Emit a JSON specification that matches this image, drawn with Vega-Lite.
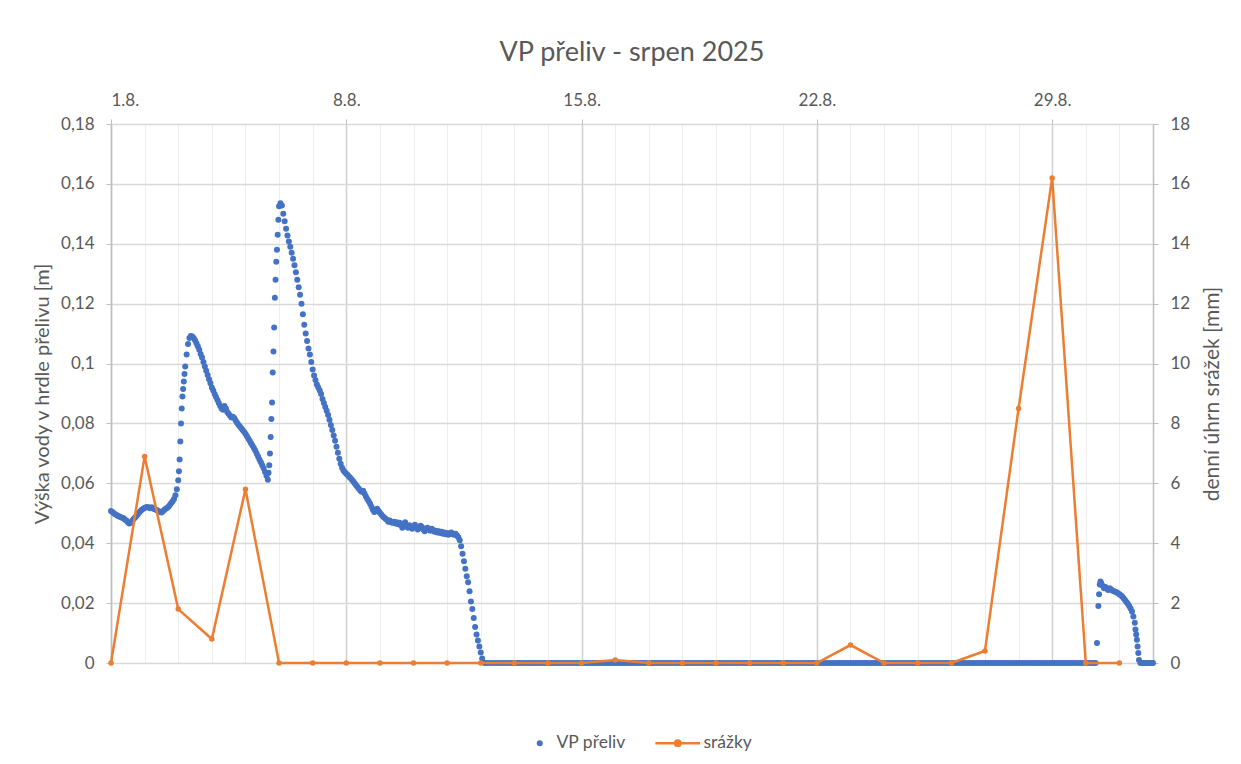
{
"$schema": "https://vega.github.io/schema/vega-lite/v6.json",
"width": 1042,
"height": 539,
"autosize": {"type": "none"},
"padding": {"left": 111, "top": 124, "right": 88, "bottom": 101},
"background": "white",
"config": {"view": {"stroke": null}, "font": "Lato", "axis": {"labelOverlap": false}},
"title": {"text": "VP přeliv - srpen 2025", "fontSize": 27, "fontWeight": "normal", "color": "#595959", "font": "Lato", "offset": 24},
"datasets": {
"lvl": [
{"h":0,"v":0.0508},{"h":1,"v":0.0504},{"h":2,"v":0.0500},{"h":3,"v":0.0497},{"h":4,"v":0.0494},{"h":5,"v":0.0491},{"h":6,"v":0.0489},{"h":7,"v":0.0487},{"h":8,"v":0.0485},{"h":9,"v":0.0483},{"h":10,"v":0.0478},{"h":11,"v":0.0476},{"h":12,"v":0.0470},{"h":13,"v":0.0466},{"h":14,"v":0.0468},{"h":15,"v":0.0474},{"h":16,"v":0.0480},{"h":17,"v":0.0485},{"h":18,"v":0.0490},{"h":19,"v":0.0496},{"h":20,"v":0.0502},{"h":21,"v":0.0508},{"h":22,"v":0.0512},{"h":23,"v":0.0515},{"h":24,"v":0.0518},{"h":25,"v":0.0520},{"h":26,"v":0.0521},{"h":27,"v":0.0519},{"h":28,"v":0.0517},{"h":29,"v":0.0520},{"h":30,"v":0.0516},{"h":31,"v":0.0514},{"h":32,"v":0.0512},{"h":33,"v":0.0510},{"h":34,"v":0.0507},{"h":35,"v":0.0505},{"h":36,"v":0.0503},{"h":37,"v":0.0507},{"h":38,"v":0.0511},{"h":39,"v":0.0515},{"h":40,"v":0.0518},{"h":41,"v":0.0522},{"h":42,"v":0.0528},{"h":43,"v":0.0534},{"h":44,"v":0.0540},{"h":45,"v":0.0548},{"h":46,"v":0.0560},{"h":47,"v":0.0580},{"h":48,"v":0.0610},{"h":48.5,"v":0.0640},{"h":49,"v":0.0680},{"h":49.5,"v":0.0740},{"h":50,"v":0.0800},{"h":50.5,"v":0.0850},{"h":51,"v":0.0890},{"h":51.5,"v":0.0915},{"h":52,"v":0.0940},{"h":52.5,"v":0.0965},{"h":53,"v":0.0990},{"h":54,"v":0.1030},{"h":55,"v":0.1065},{"h":56,"v":0.1085},{"h":57,"v":0.1092},{"h":58,"v":0.1090},{"h":59,"v":0.1085},{"h":60,"v":0.1078},{"h":61,"v":0.1068},{"h":62,"v":0.1058},{"h":63,"v":0.1046},{"h":64,"v":0.1032},{"h":65,"v":0.1020},{"h":66,"v":0.1005},{"h":67,"v":0.0990},{"h":68,"v":0.0976},{"h":69,"v":0.0962},{"h":70,"v":0.0948},{"h":71,"v":0.0934},{"h":72,"v":0.0920},{"h":73,"v":0.0910},{"h":74,"v":0.0898},{"h":75,"v":0.0888},{"h":76,"v":0.0878},{"h":77,"v":0.0868},{"h":78,"v":0.0858},{"h":79,"v":0.0850},{"h":80,"v":0.0846},{"h":81,"v":0.0858},{"h":82,"v":0.0850},{"h":83,"v":0.0838},{"h":84,"v":0.0832},{"h":85,"v":0.0826},{"h":86,"v":0.0820},{"h":87,"v":0.0822},{"h":88,"v":0.0818},{"h":89,"v":0.0810},{"h":90,"v":0.0802},{"h":91,"v":0.0796},{"h":92,"v":0.0790},{"h":93,"v":0.0784},{"h":94,"v":0.0778},{"h":95,"v":0.0772},{"h":96,"v":0.0766},{"h":97,"v":0.0758},{"h":98,"v":0.0750},{"h":99,"v":0.0742},{"h":100,"v":0.0734},{"h":101,"v":0.0726},{"h":102,"v":0.0718},{"h":103,"v":0.0710},{"h":104,"v":0.0700},{"h":105,"v":0.0690},{"h":106,"v":0.0680},{"h":107,"v":0.0670},{"h":108,"v":0.0660},{"h":109,"v":0.0650},{"h":110,"v":0.0638},{"h":111,"v":0.0625},{"h":112,"v":0.0612},{"h":112.5,"v":0.0635},{"h":113,"v":0.0660},{"h":113.5,"v":0.0700},{"h":114,"v":0.0755},{"h":114.5,"v":0.0815},{"h":115,"v":0.0870},{"h":115.5,"v":0.0970},{"h":116,"v":0.1040},{"h":116.5,"v":0.1120},{"h":117,"v":0.1220},{"h":117.5,"v":0.1280},{"h":118,"v":0.1340},{"h":118.5,"v":0.1380},{"h":119,"v":0.1430},{"h":119.5,"v":0.1480},{"h":120,"v":0.1525},{"h":121,"v":0.1535},{"h":122,"v":0.1528},{"h":123,"v":0.1500},{"h":124,"v":0.1475},{"h":125,"v":0.1450},{"h":126,"v":0.1428},{"h":127,"v":0.1408},{"h":128,"v":0.1390},{"h":129,"v":0.1370},{"h":130,"v":0.1350},{"h":131,"v":0.1328},{"h":132,"v":0.1305},{"h":133,"v":0.1280},{"h":134,"v":0.1255},{"h":135,"v":0.1230},{"h":136,"v":0.1200},{"h":137,"v":0.1165},{"h":138,"v":0.1130},{"h":139,"v":0.1100},{"h":140,"v":0.1075},{"h":141,"v":0.1050},{"h":142,"v":0.1030},{"h":143,"v":0.1005},{"h":144,"v":0.0980},{"h":145,"v":0.0960},{"h":146,"v":0.0945},{"h":147,"v":0.0930},{"h":148,"v":0.0920},{"h":149,"v":0.0910},{"h":150,"v":0.0898},{"h":151,"v":0.0882},{"h":152,"v":0.0868},{"h":153,"v":0.0855},{"h":154,"v":0.0842},{"h":155,"v":0.0828},{"h":156,"v":0.0812},{"h":157,"v":0.0795},{"h":158,"v":0.0778},{"h":159,"v":0.0760},{"h":160,"v":0.0742},{"h":161,"v":0.0722},{"h":162,"v":0.0702},{"h":163,"v":0.0682},{"h":164,"v":0.0665},{"h":165,"v":0.0652},{"h":166,"v":0.0643},{"h":167,"v":0.0637},{"h":168,"v":0.0632},{"h":169,"v":0.0628},{"h":170,"v":0.0622},{"h":171,"v":0.0618},{"h":172,"v":0.0612},{"h":173,"v":0.0606},{"h":174,"v":0.0600},{"h":175,"v":0.0594},{"h":176,"v":0.0588},{"h":177,"v":0.0582},{"h":178,"v":0.0576},{"h":179,"v":0.0572},{"h":180,"v":0.0575},{"h":181,"v":0.0566},{"h":182,"v":0.0556},{"h":183,"v":0.0548},{"h":184,"v":0.0540},{"h":185,"v":0.0532},{"h":186,"v":0.0522},{"h":187,"v":0.0512},{"h":188,"v":0.0504},{"h":189,"v":0.0510},{"h":190,"v":0.0515},{"h":191,"v":0.0508},{"h":192,"v":0.0502},{"h":193,"v":0.0496},{"h":194,"v":0.0490},{"h":195,"v":0.0486},{"h":196,"v":0.0482},{"h":197,"v":0.0478},{"h":198,"v":0.0472},{"h":199,"v":0.0476},{"h":200,"v":0.0470},{"h":201,"v":0.0468},{"h":202,"v":0.0472},{"h":203,"v":0.0466},{"h":204,"v":0.0470},{"h":205,"v":0.0463},{"h":206,"v":0.0468},{"h":207,"v":0.0460},{"h":208,"v":0.0452},{"h":209,"v":0.0465},{"h":210,"v":0.0470},{"h":211,"v":0.0458},{"h":212,"v":0.0452},{"h":213,"v":0.0460},{"h":214,"v":0.0456},{"h":215,"v":0.0448},{"h":216,"v":0.0455},{"h":217,"v":0.0462},{"h":218,"v":0.0452},{"h":219,"v":0.0446},{"h":220,"v":0.0450},{"h":221,"v":0.0458},{"h":222,"v":0.0454},{"h":223,"v":0.0446},{"h":224,"v":0.0440},{"h":225,"v":0.0448},{"h":226,"v":0.0452},{"h":227,"v":0.0446},{"h":228,"v":0.0442},{"h":229,"v":0.0448},{"h":230,"v":0.0444},{"h":231,"v":0.0438},{"h":232,"v":0.0442},{"h":233,"v":0.0436},{"h":234,"v":0.0440},{"h":235,"v":0.0434},{"h":236,"v":0.0438},{"h":237,"v":0.0432},{"h":238,"v":0.0436},{"h":239,"v":0.0430},{"h":240,"v":0.0434},{"h":241,"v":0.0428},{"h":242,"v":0.0432},{"h":243,"v":0.0436},{"h":244,"v":0.0430},{"h":245,"v":0.0428},{"h":246,"v":0.0432},{"h":247,"v":0.0426},{"h":248,"v":0.0420},{"h":249,"v":0.0410},{"h":250,"v":0.0390},{"h":251,"v":0.0365},{"h":252,"v":0.0340},{"h":253,"v":0.0315},{"h":254,"v":0.0290},{"h":255,"v":0.0270},{"h":256,"v":0.0240},{"h":257,"v":0.0205},{"h":258,"v":0.0180},{"h":259,"v":0.0150},{"h":260,"v":0.0120},{"h":261,"v":0.0095},{"h":262,"v":0.0075},{"h":263,"v":0.0055},{"h":264,"v":0.0035},{"h":265,"v":0.0015},{"h":266,"v":0.0002},{"h":267,"v":0},
{"h":268,"v":0},{"h":270,"v":0},{"h":272,"v":0},{"h":274,"v":0},{"h":276,"v":0},{"h":278,"v":0},{"h":280,"v":0},{"h":282,"v":0},{"h":284,"v":0},{"h":286,"v":0},{"h":288,"v":0},{"h":290,"v":0},{"h":292,"v":0},{"h":294,"v":0},{"h":296,"v":0},{"h":298,"v":0},{"h":300,"v":0},{"h":302,"v":0},{"h":304,"v":0},{"h":306,"v":0},{"h":308,"v":0},{"h":310,"v":0},{"h":312,"v":0},{"h":314,"v":0},{"h":316,"v":0},{"h":318,"v":0},{"h":320,"v":0},{"h":322,"v":0},{"h":324,"v":0},{"h":326,"v":0},{"h":328,"v":0},{"h":330,"v":0},{"h":332,"v":0},{"h":334,"v":0},{"h":336,"v":0},{"h":338,"v":0},{"h":340,"v":0},{"h":342,"v":0},{"h":344,"v":0},{"h":346,"v":0},{"h":348,"v":0},{"h":350,"v":0},{"h":352,"v":0},{"h":354,"v":0},{"h":356,"v":0},{"h":358,"v":0},{"h":360,"v":0},{"h":362,"v":0},{"h":364,"v":0},{"h":366,"v":0},{"h":368,"v":0},{"h":370,"v":0},{"h":372,"v":0},{"h":374,"v":0},{"h":376,"v":0},{"h":378,"v":0},{"h":380,"v":0},{"h":382,"v":0},{"h":384,"v":0},{"h":386,"v":0},{"h":388,"v":0},{"h":390,"v":0},{"h":392,"v":0},{"h":394,"v":0},{"h":396,"v":0},{"h":398,"v":0},{"h":400,"v":0},{"h":402,"v":0},{"h":404,"v":0},{"h":406,"v":0},{"h":408,"v":0},{"h":410,"v":0},{"h":412,"v":0},{"h":414,"v":0},{"h":416,"v":0},{"h":418,"v":0},{"h":420,"v":0},{"h":422,"v":0},{"h":424,"v":0},{"h":426,"v":0},{"h":428,"v":0},{"h":430,"v":0},{"h":432,"v":0},{"h":434,"v":0},{"h":436,"v":0},{"h":438,"v":0},{"h":440,"v":0},{"h":442,"v":0},{"h":444,"v":0},{"h":446,"v":0},{"h":448,"v":0},{"h":450,"v":0},{"h":452,"v":0},{"h":454,"v":0},{"h":456,"v":0},{"h":458,"v":0},{"h":460,"v":0},{"h":462,"v":0},{"h":464,"v":0},{"h":466,"v":0},{"h":468,"v":0},{"h":470,"v":0},{"h":472,"v":0},{"h":474,"v":0},{"h":476,"v":0},{"h":478,"v":0},{"h":480,"v":0},{"h":482,"v":0},{"h":484,"v":0},{"h":486,"v":0},{"h":488,"v":0},{"h":490,"v":0},{"h":492,"v":0},{"h":494,"v":0},{"h":496,"v":0},{"h":498,"v":0},{"h":500,"v":0},{"h":502,"v":0},{"h":504,"v":0},{"h":506,"v":0},{"h":508,"v":0},{"h":510,"v":0},{"h":512,"v":0},{"h":514,"v":0},{"h":516,"v":0},{"h":518,"v":0},{"h":520,"v":0},{"h":522,"v":0},{"h":524,"v":0},{"h":526,"v":0},{"h":528,"v":0},{"h":530,"v":0},{"h":532,"v":0},{"h":534,"v":0},{"h":536,"v":0},{"h":538,"v":0},{"h":540,"v":0},{"h":542,"v":0},{"h":544,"v":0},{"h":546,"v":0},{"h":548,"v":0},{"h":550,"v":0},{"h":552,"v":0},{"h":554,"v":0},{"h":556,"v":0},{"h":558,"v":0},{"h":560,"v":0},{"h":562,"v":0},{"h":564,"v":0},{"h":566,"v":0},{"h":568,"v":0},{"h":570,"v":0},{"h":572,"v":0},{"h":574,"v":0},{"h":576,"v":0},{"h":578,"v":0},{"h":580,"v":0},{"h":582,"v":0},{"h":584,"v":0},{"h":586,"v":0},{"h":588,"v":0},{"h":590,"v":0},{"h":592,"v":0},{"h":594,"v":0},{"h":596,"v":0},{"h":598,"v":0},{"h":600,"v":0},{"h":602,"v":0},{"h":604,"v":0},{"h":606,"v":0},{"h":608,"v":0},{"h":610,"v":0},{"h":612,"v":0},{"h":614,"v":0},{"h":616,"v":0},{"h":618,"v":0},{"h":620,"v":0},{"h":622,"v":0},{"h":624,"v":0},{"h":626,"v":0},{"h":628,"v":0},{"h":630,"v":0},{"h":632,"v":0},{"h":634,"v":0},{"h":636,"v":0},{"h":638,"v":0},{"h":640,"v":0},{"h":642,"v":0},{"h":644,"v":0},{"h":646,"v":0},{"h":648,"v":0},{"h":650,"v":0},{"h":652,"v":0},{"h":654,"v":0},{"h":656,"v":0},{"h":658,"v":0},{"h":660,"v":0},{"h":662,"v":0},{"h":664,"v":0},{"h":666,"v":0},{"h":668,"v":0},{"h":670,"v":0},{"h":672,"v":0},{"h":674,"v":0},{"h":676,"v":0},{"h":678,"v":0},{"h":680,"v":0},{"h":682,"v":0},{"h":684,"v":0},{"h":686,"v":0},{"h":688,"v":0},{"h":690,"v":0},{"h":692,"v":0},{"h":694,"v":0},{"h":696,"v":0},{"h":698,"v":0},{"h":700,"v":0},{"h":702,"v":0},{"h":703,"v":0},
{"h":704,"v":0.0067},{"h":705,"v":0.0190},{"h":705.5,"v":0.0230},{"h":706,"v":0.0262},{"h":706.5,"v":0.0272},{"h":707,"v":0.0266},{"h":708,"v":0.0258},{"h":709,"v":0.0250},{"h":710,"v":0.0254},{"h":711,"v":0.0248},{"h":712,"v":0.0244},{"h":713,"v":0.0250},{"h":714,"v":0.0246},{"h":715,"v":0.0242},{"h":716,"v":0.0240},{"h":717,"v":0.0238},{"h":718,"v":0.0236},{"h":719,"v":0.0233},{"h":720,"v":0.0230},{"h":721,"v":0.0226},{"h":722,"v":0.0222},{"h":723,"v":0.0216},{"h":724,"v":0.0210},{"h":725,"v":0.0204},{"h":726,"v":0.0198},{"h":727,"v":0.0190},{"h":728,"v":0.0182},{"h":729,"v":0.0172},{"h":730,"v":0.0155},{"h":731,"v":0.0134},{"h":731.5,"v":0.0112},{"h":732,"v":0.0095},{"h":732.5,"v":0.0078},{"h":733,"v":0.0055},{"h":733.5,"v":0.0033},{"h":734,"v":0.0010},{"h":735,"v":0},{"h":736,"v":0},{"h":737,"v":0},{"h":738,"v":0},{"h":739,"v":0},{"h":740,"v":0},{"h":741,"v":0},{"h":742,"v":0},{"h":743,"v":0},{"h":744,"v":0}
],
"rain": [
{"h":0,"p":0},{"h":24,"p":6.9},{"h":48,"p":1.8},{"h":72,"p":0.8},{"h":96,"p":5.8},{"h":120,"p":0},{"h":144,"p":0},{"h":168,"p":0},{"h":192,"p":0},{"h":216,"p":0},{"h":240,"p":0},{"h":264,"p":0},{"h":288,"p":0},{"h":312,"p":0},{"h":336,"p":0},{"h":360,"p":0.1},{"h":384,"p":0},{"h":408,"p":0},{"h":432,"p":0},{"h":456,"p":0},{"h":480,"p":0},{"h":504,"p":0},{"h":528,"p":0.6},{"h":552,"p":0},{"h":576,"p":0},{"h":600,"p":0},{"h":624,"p":0.4},{"h":648,"p":8.5},{"h":672,"p":16.2},{"h":696,"p":0},{"h":720,"p":0}
]
},
"encoding": {
"x": {"field": "h", "type": "quantitative", "scale": {"domain": [0, 744], "nice": false, "zero": false},
"axis": {"orient": "top", "title": null, "values": [0,24,48,72,96,120,144,168,192,216,240,264,288,312,336,360,384,408,432,456,480,504,528,552,576,600,624,648,672,696,720,744],
"labelExpr": "datum.value % 168 === 0 ? (datum.value / 24 + 1) + '.8.' : ''",
"labelOverlap": false,
"labelFontSize": 17, "labelColor": "#595959", "labelPadding": 10, "labelFont": "Lato",
"domain": false, "tickSize": 5,
"tickColor": {"condition": {"test": "datum.value % 168 === 0", "value": "#bfbfbf"}, "value": "transparent"},
"grid": true,
"gridColor": {"condition": {"test": "datum.value % 168 === 0", "value": "#d0d0d0"}, "value": "#eeeeee"},
"gridWidth": {"condition": {"test": "datum.value % 168 === 0", "value": 1.5}, "value": 1},
"zindex": 0}}
},
"layer": [
{
"data": {"name": "lvl"},
"mark": {"type": "point", "filled": true, "size": 36, "opacity": 1},
"encoding": {
"y": {"field": "v", "type": "quantitative", "scale": {"domain": [0, 0.18], "nice": false},
"axis": {"orient": "left", "title": "Výška vody v hrdle přelivu [m]", "values": [0,0.02,0.04,0.06,0.08,0.1,0.12,0.14,0.16,0.18],
"labelExpr": "replace(format(datum.value, '.2~f'), '.', ',')",
"labelFontSize": 17, "labelColor": "#595959", "labelPadding": 12, "labelFont": "Lato",
"titleFontSize": 20, "titleFontWeight": "normal", "titleColor": "#595959", "titleFont": "Lato", "titlePadding": 8,
"domain": true, "domainColor": "#bfbfbf", "domainWidth": 1.5, "tickColor": "#bfbfbf", "tickSize": 5,
"grid": true, "gridColor": "#d9d9d9", "gridWidth": 1.5, "zindex": 0}},
"color": {"datum": "VP přeliv", "type": "nominal",
"scale": {"domain": ["VP přeliv", "srážky"], "range": ["#4472C4", "#ED7D31"]},
"legend": {"orient": "none", "legendX": 420, "legendY": 610, "direction": "horizontal", "title": null, "labelFontSize": 17.5, "labelColor": "#595959", "labelFont": "Lato", "columnPadding": 24, "labelOffset": 8,
"encode": {"symbols": {"update": {
"shape": {"signal": "datum.value === 'srážky' ? 'M-1,0H1M-0.12,0A0.12,0.12,0,1,1,0.12,0A0.12,0.12,0,1,1,-0.12,0Z' : 'circle'"},
"size": {"signal": "datum.value === 'srážky' ? 2000 : 36"},
"strokeWidth": {"signal": "datum.value === 'srážky' ? 2.5 : 0"},
"fill": {"signal": "datum.value === 'srážky' ? '#ED7D31' : '#4472C4'"},
"stroke": {"signal": "datum.value === 'srážky' ? '#ED7D31' : '#4472C4'"},
"opacity": {"value": 1}, "fillOpacity": {"value": 1}, "strokeOpacity": {"value": 1}}},
"labels": {"update": {"dx": {"signal": "datum.value === 'srážky' ? 9 : 0"}}}}}}
}
},
{
"data": {"name": "rain"},
"mark": {"type": "line", "strokeWidth": 2.5, "point": {"filled": true, "size": 30}},
"encoding": {
"y": {"field": "p", "type": "quantitative", "scale": {"domain": [0, 18], "nice": false},
"axis": {"orient": "right", "title": "denní úhrn srážek [mm]", "values": [0,2,4,6,8,10,12,14,16,18],
"labelFontSize": 17, "labelColor": "#595959", "labelPadding": 12, "labelFont": "Lato",
"titleFontSize": 21, "titleFontWeight": "normal", "titleColor": "#595959", "titleFont": "Lato", "titlePadding": 33, "titleAngle": 270,
"domain": true, "domainColor": "#bfbfbf", "domainWidth": 1.5, "tickColor": "#bfbfbf", "tickSize": 5,
"grid": false}},
"color": {"datum": "srážky", "type": "nominal",
"legend": {"orient": "none", "legendX": 420, "legendY": 610, "direction": "horizontal", "title": null, "labelFontSize": 17.5, "labelColor": "#595959", "labelFont": "Lato", "columnPadding": 24, "labelOffset": 8,
"encode": {"symbols": {"update": {
"shape": {"signal": "datum.value === 'srážky' ? 'M-1,0H1M-0.12,0A0.12,0.12,0,1,1,0.12,0A0.12,0.12,0,1,1,-0.12,0Z' : 'circle'"},
"size": {"signal": "datum.value === 'srážky' ? 2000 : 36"},
"strokeWidth": {"signal": "datum.value === 'srážky' ? 2.5 : 0"},
"fill": {"signal": "datum.value === 'srážky' ? '#ED7D31' : '#4472C4'"},
"stroke": {"signal": "datum.value === 'srážky' ? '#ED7D31' : '#4472C4'"},
"opacity": {"value": 1}, "fillOpacity": {"value": 1}, "strokeOpacity": {"value": 1}}},
"labels": {"update": {"dx": {"signal": "datum.value === 'srážky' ? 9 : 0"}}}}}}
}
}
],
"resolve": {"scale": {"y": "independent"}}
}
